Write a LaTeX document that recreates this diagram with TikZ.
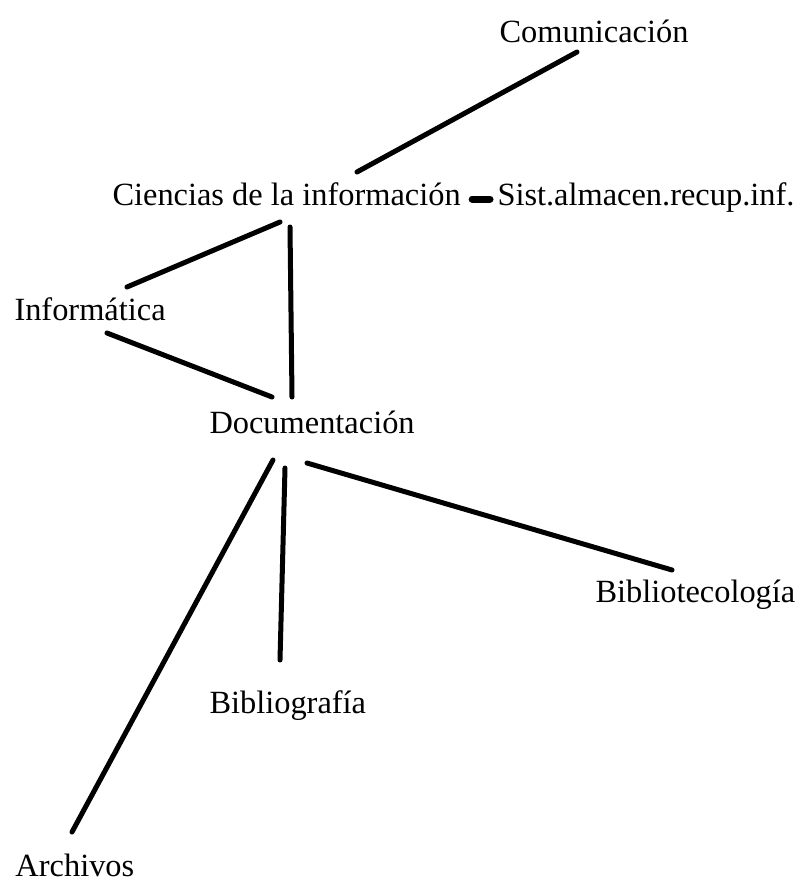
\documentclass[tikz,border=0pt]{standalone}
\usepackage{fontspec}
\setmainfont{Liberation Serif}

\begin{document}
\begin{tikzpicture}[x=1pt, y=-1pt, line width=5pt, line cap=round,
    font=\fontsize{32.4}{39}\selectfont,
    every node/.style={anchor=base west, inner sep=0pt}]
    \useasboundingbox (0,0) rectangle (804,884);
    \node (comun) at (497,42) {Comunicación};
    \node (cienc) at (110,205) {Ciencias de la información};
    \node (sist) at (495,205) {Sist.almacen.recup.inf.};
    \node (infor) at (12,320) {Informática};
    \node (docum) at (207,433) {Documentación};
    \node (bibtec) at (593,602) {Bibliotecología};
    \node (bibgraf) at (207,713) {Bibliografía};
    \node (archiv) at (13,876) {Archivos};
    \path
    ([xshift=80pt,yshift=-10pt]comun.base west) edge ([xshift=247pt,yshift=33pt]cienc.base west)
    ([xshift=9pt,yshift=6pt]cienc.base east) edge[line width=7pt] ([xshift=-5pt,yshift=6pt]sist.base west)
    ([xshift=170pt,yshift=-17pt]cienc.base west) edge ([xshift=115pt,yshift=33pt]infor.base west)
    ([xshift=180pt,yshift=-22pt]cienc.base west) edge ([xshift=85pt,yshift=36pt]docum.base west)
    ([xshift=95pt,yshift=-13pt]infor.base west) edge ([xshift=65pt,yshift=36pt]docum.base west)
    ([xshift=66pt,yshift=-27pt]docum.base west) edge ([xshift=59pt,yshift=44pt]archiv.base west)
    ([xshift=78pt,yshift=-35pt]docum.base west) edge ([xshift=73pt,yshift=53pt]bibgraf.base west)
    ([xshift=100pt,yshift=-30pt]docum.base west) edge ([xshift=79pt,yshift=32pt]bibtec.base west)
    ;
\end{tikzpicture}
\end{document}
